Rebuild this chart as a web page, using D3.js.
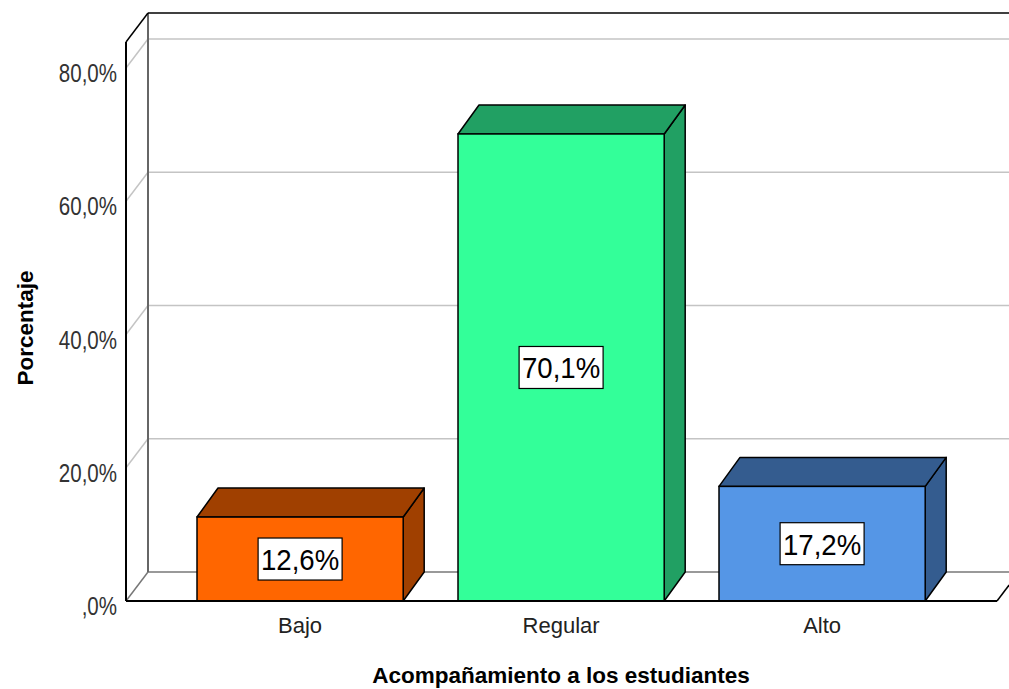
<!DOCTYPE html>
<html><head><meta charset="utf-8">
<script src="https://cdn.jsdelivr.net/npm/d3@7"></script>
<style>body{margin:0;background:#fff;}svg{display:block;font-family:"Liberation Sans",Arial,sans-serif;}</style>
</head><body>
<svg id="chart" width="1009" height="689"></svg>
<script>
const categories = ["Bajo", "Regular", "Alto"];
const values = [12.6, 70.1, 17.2];
const valueLabels = ["12,6%", "70,1%", "17,2%"];
const tickValues = [0, 20, 40, 60, 80];
const tickLabels = [",0%", "20,0%", "40,0%", "60,0%", "80,0%"];
const frontColors = ["#FF6600", "#33FF99", "#5596E6"];
const darkColors = ["#A04000", "#21A063", "#345C8F"];
const xTitle = "Acompañamiento a los estudiantes";
const yTitle = "Porcentaje";

const svg = d3.select("#chart");
const y = d3.scaleLinear().domain([0, 80]).range([601, 68]);
const x = d3.scaleBand().domain(categories).range([169.6, 952.6]).paddingInner(0.21).paddingOuter(0.105);
const yMax = 83.9;
const left = 126, right = 997;
const DX = 22, DY = -29;      // wall depth
const BDX = 21, BDY = -29;    // bar depth

// back wall gridlines
const g = svg.append("g");
tickValues.forEach(t => {
  if (t === 0) return;
  g.append("line").attr("x1", left + DX).attr("x2", 1009).attr("y1", y(t) + DY).attr("y2", y(t) + DY)
    .attr("stroke", "#c4c4c4").attr("stroke-width", 1.5);
  g.append("line").attr("x1", left).attr("x2", left + DX).attr("y1", y(t)).attr("y2", y(t) + DY)
    .attr("stroke", "#c4c4c4").attr("stroke-width", 1.5);
});
// floor
g.append("line").attr("x1", left + DX).attr("x2", 1009).attr("y1", y(0) + DY).attr("y2", y(0) + DY)
  .attr("stroke", "#777").attr("stroke-width", 1.5);
g.append("line").attr("x1", left).attr("x2", left + DX).attr("y1", y(0)).attr("y2", y(0) + DY)
  .attr("stroke", "#777").attr("stroke-width", 1.5);
g.append("line").attr("x1", right).attr("x2", right + DX * 0.55).attr("y1", y(0)).attr("y2", y(0) + DY * 0.55)
  .attr("stroke", "#000").attr("stroke-width", 1.5);
// back wall left edge
g.append("line").attr("x1", left + DX).attr("x2", left + DX).attr("y1", y(yMax) + DY).attr("y2", y(0) + DY)
  .attr("stroke", "#666").attr("stroke-width", 2);
// top edges
g.append("line").attr("x1", left + DX).attr("x2", 1009).attr("y1", y(yMax) + DY).attr("y2", y(yMax) + DY)
  .attr("stroke", "#000").attr("stroke-width", 1.5);
g.append("line").attr("x1", left).attr("x2", left + DX).attr("y1", y(yMax)).attr("y2", y(yMax) + DY)
  .attr("stroke", "#000").attr("stroke-width", 1.5);

// bars
const bars = svg.append("g").selectAll("g").data(categories).join("g");
bars.each(function(c, i) {
  const gg = d3.select(this);
  const x0 = x(c), x1 = x(c) + x.bandwidth();
  const yt = y(values[i]), y0 = y(0);
  gg.append("path").attr("d", `M${x1},${yt}L${x1 + BDX},${yt + BDY}L${x1 + BDX},${y0 + BDY}L${x1},${y0}Z`)
    .attr("fill", darkColors[i]).attr("stroke", "#000").attr("stroke-width", 1.5).attr("stroke-linejoin", "round");
  gg.append("path").attr("d", `M${x0},${yt}L${x0 + BDX},${yt + BDY}L${x1 + BDX},${yt + BDY}L${x1},${yt}Z`)
    .attr("fill", darkColors[i]).attr("stroke", "#000").attr("stroke-width", 1.5).attr("stroke-linejoin", "round");
  gg.append("rect").attr("x", x0).attr("y", yt).attr("width", x1 - x0).attr("height", y0 - yt)
    .attr("fill", frontColors[i]).attr("stroke", "#000").attr("stroke-width", 1.5);
  const cx = (x0 + x1) / 2, cy = (yt + y0) / 2;
  gg.append("rect").attr("x", cx - 42).attr("y", cy - 21).attr("width", 84).attr("height", 42)
    .attr("fill", "#fff").attr("stroke", "#000").attr("stroke-width", 1.2);
  gg.append("text").attr("transform", `translate(${cx},${cy + 11}) scale(0.92,1)`).attr("text-anchor", "middle")
    .attr("font-size", 30).attr("fill", "#000").text(valueLabels[i]);
});

// front floor and left edge on top
svg.append("line").attr("x1", left).attr("x2", right).attr("y1", y(0)).attr("y2", y(0))
  .attr("stroke", "#000").attr("stroke-width", 2);
svg.append("line").attr("x1", left).attr("x2", left).attr("y1", y(yMax)).attr("y2", y(0))
  .attr("stroke", "#000").attr("stroke-width", 2);

// y tick labels
svg.append("g").selectAll("text").data(tickValues).join("text")
  .attr("transform", d => `translate(117,${y(d) + 14}) scale(0.79,1)`).attr("text-anchor", "end")
  .attr("font-size", 26).attr("fill", "#333").text((d, i) => tickLabels[i]);

// x category labels
svg.append("g").selectAll("text").data(categories).join("text")
  .attr("x", d => x(d) + x.bandwidth() / 2).attr("y", 633).attr("text-anchor", "middle")
  .attr("font-size", 22).attr("fill", "#222").text(d => d);

// titles
svg.append("text").attr("x", 561).attr("y", 683).attr("text-anchor", "middle")
  .attr("font-size", 22.5).attr("font-weight", "bold").attr("fill", "#000").text(xTitle);
svg.append("text").attr("transform", "translate(33,328) rotate(-90)").attr("text-anchor", "middle")
  .attr("font-size", 22.5).attr("font-weight", "bold").attr("fill", "#000").text(yTitle);
</script>
</body></html>
